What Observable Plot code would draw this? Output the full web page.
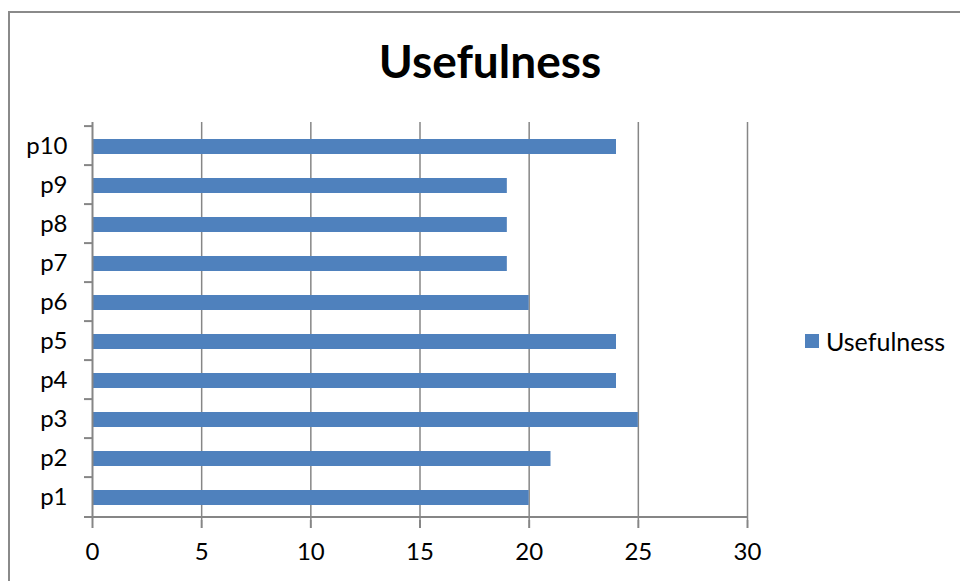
<!DOCTYPE html>
<html>
<head>
<meta charset="utf-8">
<script src="https://cdn.jsdelivr.net/npm/d3@7"></script>
<script src="https://cdn.jsdelivr.net/npm/@observablehq/plot@0.6"></script>
<style>
  html, body { margin: 0; padding: 0; background: #fff; overflow: hidden; }
  #wrap { position: relative; width: 960px; height: 581px; font-family: Lato, sans-serif; }
  #border { position: absolute; left: 8px; top: 11px; width: 1000px; height: 700px; border: 2px solid #8a8a8a; box-sizing: border-box; }
  #chart { position: absolute; left: 0; top: 0; }
  #title { position: absolute; left: 0; width: 980px; top: 31px; text-align: center; font-weight: bold; font-size: 46px; line-height: 60px; color: #000; }
  #legend { position: absolute; left: 805px; top: 324px; display: flex; align-items: center; font-size: 25px; line-height: 34px; color: #000; }
  #legend .sw { width: 14px; height: 14px; background: #4F81BD; margin-right: 7px; }
  #chart svg text { font-size: 24px; }
</style>
</head>
<body>
<div id="wrap">
  <div id="border"></div>
  <div id="chart"></div>
  <div id="title">Usefulness</div>
  <div id="legend"><div class="sw"></div><span>Usefulness</span></div>
</div>
<script>
const names = ["p1", "p2", "p3", "p4", "p5", "p6", "p7", "p8", "p9", "p10"];
const values = [20, 21, 25, 24, 24, 20, 19, 19, 19, 24];
const xTicks = [0, 5, 10, 15, 20, 25, 30];

const data = names.map((n, i) => ({name: n, value: values[i]}));

const W = 960, H = 581;
const mTop = 122, mBottom = 61, mLeft = 92, mRight = 213;
const bw = (H - mTop - mBottom) / names.length;
const axisColor = "#868686";

const chart = Plot.plot({
  width: W,
  height: H,
  marginTop: mTop,
  marginBottom: mBottom,
  marginLeft: mLeft,
  marginRight: mRight,
  style: {fontFamily: "Lato, sans-serif", fontSize: "24px", color: "#000", background: "transparent"},
  x: {domain: [0, 30]},
  y: {domain: names.slice().reverse(), padding: 0},
  marks: [
    Plot.gridX(xTicks.filter(d => d > 0), {stroke: axisColor, strokeOpacity: 1, strokeWidth: 1.5}),
    Plot.barX(data, {x: "value", y: "name", fill: "#4F81BD", insetTop: 13, insetBottom: 11}),
    Plot.ruleX([0], {stroke: axisColor, strokeWidth: 2}),
    Plot.ruleY([names[0]], {y: d => d, x1: 0, x2: 30, insetLeft: -8, dy: bw / 2, stroke: axisColor, strokeWidth: 2}),
    Plot.axisX(xTicks, {tickSize: 8, tickPadding: 14, stroke: axisColor, strokeWidth: 2, fill: "#000", fontSize: 24, label: null}),
    Plot.axisY({tickSize: 0, tickPadding: 25, fill: "#000", fontSize: 24, label: null}),
    Plot.ruleY(names, {y: d => d, x1: 0, x2: 0, insetLeft: -8, dy: -bw / 2, stroke: axisColor, strokeWidth: 2})
  ]
});
document.getElementById("chart").appendChild(chart);
</script>
</body>
</html>
